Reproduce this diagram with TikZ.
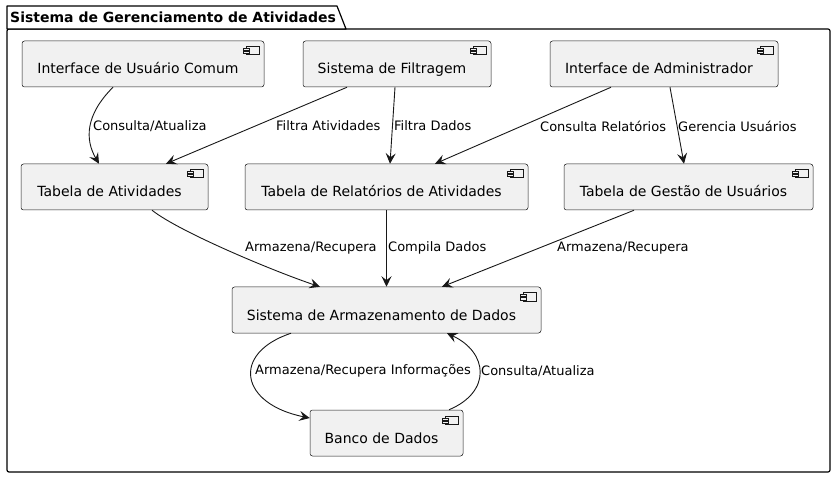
\documentclass[tikz,border=0pt]{standalone}
\usepackage{fontspec}
\setmainfont{DejaVu Sans}
\usetikzlibrary{arrows.meta}
\definecolor{boxfill}{HTML}{F1F1F1}
\definecolor{ink}{HTML}{181818}
\tikzset{
  comp/.style={draw=ink, fill=boxfill, line width=0.5pt, rounded corners=2.5pt,
    minimum height=46pt, inner sep=0pt, font=\fontsize{14}{16}\selectfont,
    text height=20pt, text depth=0pt},
  lbl/.style={font=\fontsize{13}{15}\selectfont, inner sep=0pt, anchor=west, text=black},
  conn/.style={draw=ink, line width=0.9pt, -{Stealth[length=10.5pt,width=10pt,inset=4pt]}},
  pkg/.style={draw=black, line width=1.2pt, fill=white},
}
\newcommand{\compicon}[1]{%
  \draw[draw=ink, line width=0.5pt, fill=boxfill]
    ([xshift=-18pt,yshift=-6pt]#1.north east) rectangle ([xshift=-5pt,yshift=-14pt]#1.north east);
  \draw[draw=ink, line width=0.5pt, fill=boxfill]
    ([xshift=-21pt,yshift=-8pt]#1.north east) rectangle ([xshift=-15pt,yshift=-10pt]#1.north east);
  \draw[draw=ink, line width=0.5pt, fill=boxfill]
    ([xshift=-21pt,yshift=-11pt]#1.north east) rectangle ([xshift=-15pt,yshift=-13pt]#1.north east);
}
\begin{document}
\begin{tikzpicture}[x=1pt,y=-1pt]
\useasboundingbox (0,0) rectangle (835,478);
% package
\draw[pkg, rounded corners=2pt] (7,29) rectangle (830,472);
\draw[pkg, line join=round] (7,29) -- (7,6) -- (337,6) -- (346,29) -- cycle;
\node[font=\fontsize{14}{16}\selectfont\bfseries, anchor=west, inner sep=0pt] (title) at (10,17) {Sistema de Gerenciamento de Atividades};

% components
\node[comp, minimum width=242pt] (uc) at (143,64) {Interface de Usuário Comum\kern10pt};
\node[comp, minimum width=188pt] (sf) at (397,64) {Sistema de Filtragem\kern10pt};
\node[comp, minimum width=228pt] (ia) at (664,64) {Interface de Administrador\kern10pt};
\node[comp, minimum width=187pt] (ta) at (114.5,187) {Tabela de Atividades\kern10pt};
\node[comp, minimum width=283pt] (tr) at (386.5,187) {Tabela de Relatórios de Atividades\kern10pt};
\node[comp, minimum width=249pt] (tg) at (688.5,187) {Tabela de Gestão de Usuários\kern10pt};
\node[comp, minimum width=309pt] (sa) at (386.5,310) {Sistema de Armazenamento de Dados\kern10pt};
\node[comp, minimum width=153pt] (bd) at (386.5,433) {Banco de Dados\kern10pt};
\foreach \n in {uc,sf,ia,ta,tr,tg,sa,bd}{\compicon{\n}}

% connectors
\draw[conn] ([xshift=-30pt]uc.south) .. controls +(-28,28) and +(-14,-24) .. ([xshift=-15.5pt]ta.north);
\draw[conn] ([xshift=-50pt]sf.south) -- ([xshift=51.5pt]ta.north);
\draw[conn] ([xshift=-2pt]sf.south) -- ([xshift=3.5pt]tr.north);
\draw[conn] ([xshift=-53pt]ia.south) -- ([xshift=48.5pt]tr.north);
\draw[conn] ([xshift=6pt]ia.south) -- ([xshift=-4.5pt]tg.north);
\draw[conn] ([xshift=37.5pt]ta.south) .. controls +(28,22) and +(-45,-15) .. ([xshift=-66.5pt]sa.north);
\draw[conn] (tr.south) -- (sa.north);
\draw[conn] ([xshift=-54.5pt]tg.south) -- ([xshift=55.5pt]sa.north);
\draw[conn] ([xshift=-95.5pt]sa.south) .. controls +(-60,20) and +(-70,-14) .. ([yshift=15pt]bd.west);
\draw[conn] ([xshift=62.5pt]bd.north) .. controls +(43,-18) and +(41,19) .. ([xshift=60.5pt]sa.south);

% labels
\node[lbl] (l1) at (93,126) {Consulta/Atualiza};
\node[lbl] (l2) at (276,126) {Filtra Atividades};
\node[lbl] (l3) at (394,126) {Filtra Dados};
\node[lbl] (l4) at (540,126) {Consulta Relatórios};
\node[lbl] (l5) at (678,126) {Gerencia Usuários};
\node[lbl] (l6) at (245,248) {Armazena/Recupera};
\node[lbl] (l7) at (388,248) {Compila Dados};
\node[lbl] (l8) at (557,248) {Armazena/Recupera};
\node[lbl] (l9) at (255,371) {Armazena/Recupera Informações};
\node[lbl] (l10) at (481,371) {Consulta/Atualiza};
\end{tikzpicture}
\end{document}
